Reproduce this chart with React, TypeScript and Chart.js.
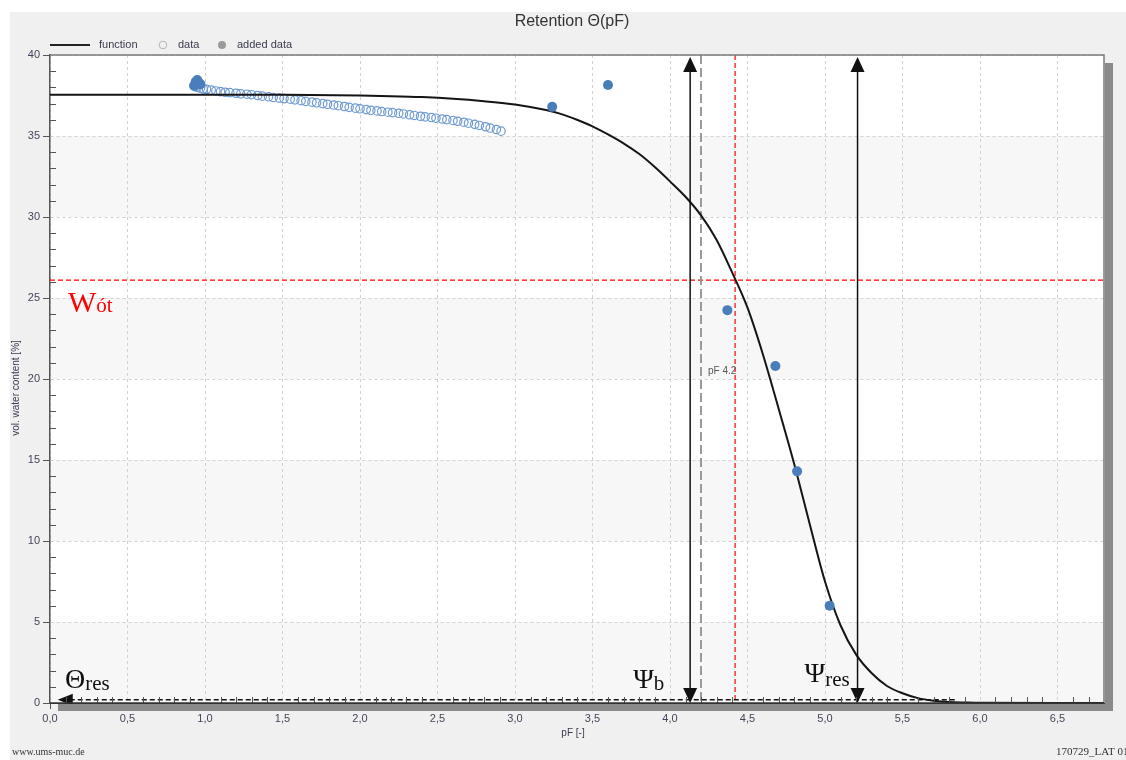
import React, { useEffect, useRef } from "react";
import { Chart, registerables } from "chart.js";
Chart.register(...registerables);

// ---------- data ----------
const FUNC_PF = [0, 0.5, 1.0, 1.5, 2.0, 2.2, 2.4, 2.6, 2.8, 3.0, 3.2, 3.3, 3.4, 3.5, 3.6, 3.7, 3.8, 3.9, 4.0, 4.1, 4.2, 4.3, 4.4, 4.5, 4.6, 4.7, 4.8, 4.9, 5.0, 5.1, 5.2, 5.3, 5.4, 5.5, 5.6, 5.7, 5.8, 5.9, 6.0, 6.8];
const FUNC_THETA = [37.55, 37.55, 37.55, 37.54, 37.5, 37.46, 37.4, 37.3, 37.15, 36.95, 36.6, 36.35, 36.0, 35.6, 35.1, 34.55, 33.9, 33.1, 32.2, 31.25, 30.1, 28.6, 26.6, 24.4, 21.5, 18.2, 14.8, 11.1, 7.5, 4.8, 3.0, 1.85, 1.05, 0.6, 0.3, 0.14, 0.06, 0.03, 0.01, 0];

const DATA_PF = [0.93, 0.94, 0.95, 0.97, 0.99, 1.01, 1.04, 1.07, 1.10, 1.13, 1.16, 1.20, 1.23, 1.27, 1.30, 1.34, 1.37, 1.41, 1.44, 1.48, 1.51, 1.55, 1.58, 1.62, 1.65, 1.69, 1.72, 1.76, 1.79, 1.83, 1.86, 1.90, 1.93, 1.97, 2.00, 2.04, 2.07, 2.11, 2.14, 2.18, 2.21, 2.25, 2.28, 2.32, 2.35, 2.39, 2.42, 2.46, 2.49, 2.53, 2.56, 2.60, 2.63, 2.67, 2.70, 2.74, 2.77, 2.81, 2.84, 2.88, 2.91];
const DATA_THETA = [38.1, 38.05, 38.0, 37.95, 37.9, 37.88, 37.83, 37.78, 37.74, 37.7, 37.68, 37.64, 37.6, 37.58, 37.55, 37.5, 37.46, 37.42, 37.38, 37.34, 37.31, 37.27, 37.23, 37.18, 37.14, 37.09, 37.05, 37.0, 36.96, 36.91, 36.87, 36.82, 36.77, 36.72, 36.68, 36.63, 36.59, 36.55, 36.51, 36.47, 36.44, 36.4, 36.36, 36.31, 36.27, 36.22, 36.18, 36.14, 36.1, 36.05, 36.01, 35.96, 35.91, 35.85, 35.79, 35.72, 35.65, 35.57, 35.49, 35.4, 35.3];

const ADDED_PF = [0.93, 0.94, 0.95, 0.96, 0.97, 3.24, 3.6, 4.37, 4.68, 4.82, 5.03];
const ADDED_THETA = [38.1, 38.35, 38.45, 38.3, 38.2, 36.8, 38.15, 24.25, 20.8, 14.3, 6.0];

const X_MIN = 0, X_MAX = 6.8, X_STEP = 0.5;
const Y_MIN = 0, Y_MAX = 40, Y_STEP = 5;
const BANDS = [[0, 5], [10, 15], [20, 25], [30, 35]];

// annotation values
const THETA_RES = 0.2;
const PSI_B = 4.13;
const PSI_RES = 5.21;
const PF_42 = 4.2;
const PF_WOT = 4.42;
const W_OT = 26.1;

const TITLE = "Retention Θ(pF)";
const X_TITLE = "pF [-]";
const Y_TITLE = "vol. water content [%]";
const LEGEND = ["function", "data", "added data"];
const FOOT_LEFT = "www.ums-muc.de";
const FOOT_RIGHT = "170729_LAT 01";

const SANS = '"Liberation Sans", Arial, sans-serif';
const SERIF = '"Liberation Serif", "Times New Roman", serif';
const LABEL_COLOR = "#45455a";

function head(ctx: CanvasRenderingContext2D, x: number, y: number, dir: string, len: number, half: number) {
  ctx.beginPath();
  if (dir === "up") { ctx.moveTo(x, y); ctx.lineTo(x - half, y + len); ctx.lineTo(x + half, y + len); }
  else if (dir === "down") { ctx.moveTo(x, y); ctx.lineTo(x - half, y - len); ctx.lineTo(x + half, y - len); }
  else { ctx.moveTo(x, y); ctx.lineTo(x + len, y - half); ctx.lineTo(x + len, y + half); }
  ctx.closePath();
  ctx.fill();
}

const decor = {
  id: "decor",
  beforeDraw(chart: any) {
    const { ctx, chartArea: a, scales } = chart;
    const y = scales.y;
    ctx.save();
    ctx.fillStyle = "#ffffff";
    ctx.fillRect(0, 0, chart.width, chart.height);
    ctx.fillStyle = "#f0f0f0";
    ctx.fillRect(10, 12, chart.width - 10, chart.height - 12);
    ctx.fillStyle = "#ffffff";
    ctx.fillRect(a.left, a.top, a.right - a.left, a.bottom - a.top);
    ctx.fillStyle = "#f7f7f7";
    for (const [lo, hi] of BANDS) {
      const t = y.getPixelForValue(hi), b = y.getPixelForValue(lo);
      ctx.fillRect(a.left, t, a.right - a.left, b - t);
    }
    ctx.restore();
  },
  beforeDatasetsDraw(chart: any) {
    const { ctx, chartArea: a, scales } = chart;
    const x = scales.x, y = scales.y;
    ctx.save();
    // red dashed lines
    ctx.strokeStyle = "#ff0000";
    ctx.lineWidth = 1.2;
    ctx.setLineDash([5, 3]);
    const yw = y.getPixelForValue(W_OT);
    ctx.beginPath(); ctx.moveTo(a.left, yw); ctx.lineTo(a.right, yw); ctx.stroke();
    const xw = x.getPixelForValue(PF_WOT);
    ctx.beginPath(); ctx.moveTo(xw, a.top); ctx.lineTo(xw, a.bottom); ctx.stroke();
    // gray dashed pF 4.2
    ctx.strokeStyle = "#9a9a9a";
    ctx.lineWidth = 2;
    ctx.setLineDash([9, 4]);
    const x42 = x.getPixelForValue(PF_42);
    ctx.beginPath(); ctx.moveTo(x42, a.top); ctx.lineTo(x42, a.bottom); ctx.stroke();
    ctx.setLineDash([]);
    ctx.restore();
  },
  afterDatasetsDraw(chart: any) {
    const { ctx, chartArea: a, scales } = chart;
    const x = scales.x, y = scales.y;
    ctx.save();
    ctx.strokeStyle = "#111";
    ctx.fillStyle = "#111";
    // theta_res dashed line with left arrow
    const yr = y.getPixelForValue(THETA_RES);
    const xs = x.getPixelForValue(0.05);
    ctx.lineWidth = 1.4;
    ctx.setLineDash([5, 3]);
    ctx.beginPath(); ctx.moveTo(xs + 12, yr); ctx.lineTo(x.getPixelForValue(5.85), yr); ctx.stroke();
    ctx.setLineDash([]);
    head(ctx, xs, yr, "left", 15, 6);
    // vertical double arrows
    for (const pf of [PSI_B, PSI_RES]) {
      const px = x.getPixelForValue(pf);
      const top = y.getPixelForValue(Y_MAX) + 2;
      const bot = y.getPixelForValue(Y_MIN);
      ctx.lineWidth = 1.5;
      ctx.beginPath(); ctx.moveTo(px, top + 10); ctx.lineTo(px, bot - 10); ctx.stroke();
      head(ctx, px, top, "up", 15, 7);
      head(ctx, px, bot, "down", 15, 7);
    }
    // minor ticks
    ctx.strokeStyle = "#555";
    ctx.lineWidth = 1;
    for (let v = Y_MIN + 1; v < Y_MAX; v++) {
      if (v % Y_STEP === 0) continue;
      const py = Math.round(y.getPixelForValue(v)) + 0.5;
      ctx.beginPath(); ctx.moveTo(a.left, py); ctx.lineTo(a.left + 6, py); ctx.stroke();
    }
    for (let k = 1; k < Math.round(X_MAX * 10); k++) {
      if (k % 5 === 0) continue;
      const px = Math.round(x.getPixelForValue(k / 10)) + 0.5;
      ctx.beginPath(); ctx.moveTo(px, a.bottom); ctx.lineTo(px, a.bottom - 6); ctx.stroke();
    }
    ctx.restore();
  },
  afterDraw(chart: any) {
    const { ctx, chartArea: a, scales } = chart;
    const x = scales.x, y = scales.y;
    ctx.save();
    // frame + shadow
    ctx.fillStyle = "#8a8a8a";
    ctx.fillRect(a.right + 1, a.top + 8, 8, a.bottom - a.top);
    ctx.fillRect(a.left + 8, a.bottom + 1, a.right - a.left + 1, 7);
    ctx.strokeStyle = "#7a7a7a";
    ctx.lineWidth = 1.5;
    ctx.beginPath(); ctx.moveTo(a.left, a.top); ctx.lineTo(a.right, a.top); ctx.lineTo(a.right, a.bottom); ctx.stroke();
    ctx.strokeStyle = "#333";
    ctx.lineWidth = 1.5;
    ctx.beginPath(); ctx.moveTo(a.left, a.bottom); ctx.lineTo(a.right, a.bottom); ctx.stroke();

    // title
    ctx.fillStyle = "#333";
    ctx.font = `16px ${SANS}`;
    ctx.textAlign = "center";
    ctx.textBaseline = "middle";
    ctx.fillText(TITLE, 572, 22);

    // legend
    const ly = 45;
    ctx.strokeStyle = "#222";
    ctx.lineWidth = 2;
    ctx.beginPath(); ctx.moveTo(50, ly); ctx.lineTo(90, ly); ctx.stroke();
    ctx.font = `11px ${SANS}`;
    ctx.textAlign = "left";
    ctx.fillStyle = "#3a3a50";
    ctx.fillText(LEGEND[0], 99, ly);
    ctx.strokeStyle = "#b5b5b5";
    ctx.lineWidth = 1;
    ctx.beginPath(); ctx.arc(163, ly, 3.8, 0, Math.PI * 2); ctx.stroke();
    ctx.fillText(LEGEND[1], 178, ly);
    ctx.fillStyle = "#9a9a9a";
    ctx.beginPath(); ctx.arc(222, ly, 4, 0, Math.PI * 2); ctx.fill();
    ctx.fillStyle = "#3a3a50";
    ctx.fillText(LEGEND[2], 237, ly);

    // axis titles
    ctx.font = `10px ${SANS}`;
    ctx.fillStyle = "#3a3a50";
    ctx.textAlign = "center";
    ctx.fillText(X_TITLE, 573, 733);
    ctx.save();
    ctx.translate(16, (a.top + a.bottom) / 2 + 9);
    ctx.rotate(-Math.PI / 2);
    ctx.fillText(Y_TITLE, 0, 0);
    ctx.restore();

    // footers
    ctx.font = `10px ${SERIF}`;
    ctx.fillStyle = "#333";
    ctx.textAlign = "left";
    ctx.fillText(FOOT_LEFT, 12, 752);
    ctx.font = `11px ${SERIF}`;
    ctx.fillText(FOOT_RIGHT, 1056, 752);

    // pF 4.2 label
    ctx.font = `10px ${SANS}`;
    ctx.fillStyle = "#555";
    ctx.fillText("pF 4.2", x.getPixelForValue(PF_42) + 7, y.getPixelForValue(20.5));

    // symbol labels
    ctx.textBaseline = "alphabetic";
    const sym = (main: string, sub: string, px: number, py: number, color: string, big: number, small: number, subDy: number) => {
      ctx.fillStyle = color;
      ctx.font = `${big}px ${SERIF}`;
      ctx.fillText(main, px, py);
      const w = ctx.measureText(main).width;
      ctx.font = `${small}px ${SERIF}`;
      ctx.fillText(sub, px + w, py + subDy);
    };
    sym("W", "ót", a.left + 18, y.getPixelForValue(W_OT) + 32, "#ff0000", 30, 21, 0);
    sym("Θ", "res", a.left + 15, y.getPixelForValue(0) - 15, "#111", 28, 21, 2);
    sym("Ψ", "b", x.getPixelForValue(PSI_B) - 57, y.getPixelForValue(0) - 15, "#111", 28, 21, 2);
    sym("Ψ", "res", x.getPixelForValue(PSI_RES) - 53, y.getPixelForValue(0) - 21, "#111", 28, 21, 4);
    ctx.restore();
  },
};

const pts = (xs: number[], ys: number[]) => xs.map((v, i) => ({ x: v, y: ys[i] }));

export default function App() {
  const ref = useRef<HTMLCanvasElement>(null);
  useEffect(() => {
    Chart.defaults.font.family = SANS;
    const chart = new Chart(ref.current as HTMLCanvasElement, {
      type: "scatter",
      data: {
        datasets: [
          {
            label: LEGEND[2],
            data: pts(ADDED_PF, ADDED_THETA),
            pointRadius: 5,
            pointBackgroundColor: "#4a7ebb",
            pointBorderColor: "#4a7ebb",
            pointBorderWidth: 0,
          },
          {
            label: LEGEND[0],
            type: "line",
            data: pts(FUNC_PF, FUNC_THETA),
            borderColor: "#151515",
            borderWidth: 2,
            pointRadius: 0,
            cubicInterpolationMode: "monotone",
            fill: false,
          },
          {
            label: LEGEND[1],
            data: pts(DATA_PF, DATA_THETA),
            pointRadius: 4.2,
            pointBackgroundColor: "rgba(255,255,255,0)",
            pointBorderColor: "#6f9bd2",
            pointBorderWidth: 1.2,
          },
        ],
      } as any,
      options: {
        responsive: false,
        animation: false,
        devicePixelRatio: 1,
        events: [],
        layout: { padding: { left: 10, top: 55, right: 22, bottom: 0 } },
        plugins: { legend: { display: false }, title: { display: false }, tooltip: { enabled: false } },
        scales: {
          x: {
            type: "linear",
            min: X_MIN,
            max: X_MAX,
            afterFit: (s: any) => { s.height = 57; },
            ticks: {
              stepSize: X_STEP,
              includeBounds: false,
              padding: 3,
              color: LABEL_COLOR,
              font: { size: 11 },
              maxRotation: 0,
              callback: (v: any) => Number(v).toFixed(1).replace(".", ","),
            },
            grid: { color: "#d2d2d2", lineWidth: 1, tickLength: 6, tickColor: "#555", drawTicks: true },
            border: { color: "#333", width: 1, dash: [3, 3] },
          },
          y: {
            type: "linear",
            min: Y_MIN,
            max: Y_MAX,
            afterFit: (s: any) => { s.width = 40; },
            ticks: {
              stepSize: Y_STEP,
              padding: 3,
              color: LABEL_COLOR,
              font: { size: 11 },
              callback: (v: any) => String(v),
            },
            grid: { color: "#d2d2d2", lineWidth: 1, tickLength: 7, tickColor: "#555", drawTicks: true },
            border: { color: "#555", width: 1.5, dash: [3, 3] },
          },
        },
      } as any,
      plugins: [decor],
    });
    return () => chart.destroy();
  }, []);
  return (
    <div style={{ position: "absolute", left: 0, top: 0, width: 1126, height: 760 }}>
      <canvas ref={ref} width={1126} height={760} style={{ display: "block" }} />
    </div>
  );
}
